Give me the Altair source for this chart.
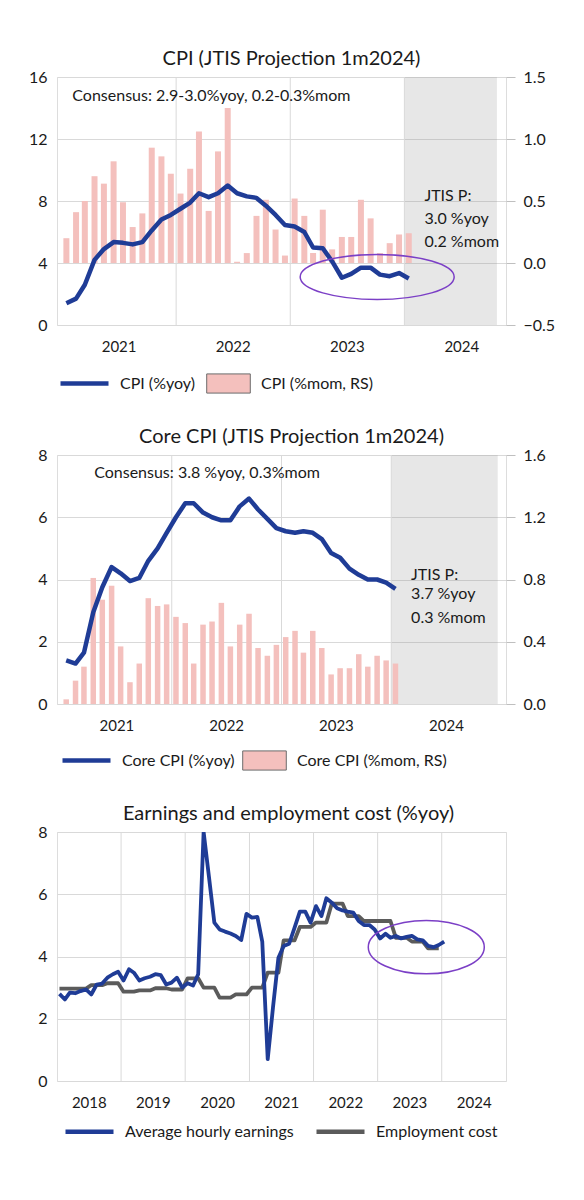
import altair as alt
import pandas as pd

FONT = "Lato"
TXT = "#1a1a1a"
BLUE = "#1f3c96"
PINK = "#f4c0bd"
GRAYLINE = "#5b5b5b"
GRID = "#d9d9d9"
PURPLE = "#7b3fc6"

# ---------------- data ----------------
cpi_months = [f"{y}-{m:02d}" for y in (2021, 2022, 2023) for m in range(1, 13)] + ["2024-01"]

cpi_yoy = [1.4, 1.7, 2.6, 4.2, 4.9, 5.35, 5.3, 5.2, 5.35, 6.1, 6.8, 7.1,
           7.5, 7.9, 8.5, 8.25, 8.5, 9.0, 8.5, 8.3, 8.2, 7.7, 7.1, 6.45,
           6.35, 6.0, 5.0, 4.95, 4.1, 3.05, 3.3, 3.7, 3.7, 3.25, 3.15, 3.35,
           3.0]
cpi_mom = [0.20, 0.41, 0.50, 0.70, 0.64, 0.82, 0.49, 0.29, 0.40, 0.93, 0.86, 0.72,
           0.56, 0.76, 1.06, 0.42, 0.90, 1.25, 0.01, 0.08, 0.38, 0.51, 0.27, 0.06,
           0.52, 0.38, 0.08, 0.43, 0.11, 0.21, 0.21, 0.51, 0.36, 0.08, 0.16, 0.23,
           0.24]
core_yoy = [1.4, 1.3, 1.65, 2.95, 3.75, 4.4, 4.2, 3.95, 4.05, 4.6, 5.0, 5.5,
            6.0, 6.45, 6.45, 6.15, 6.0, 5.9, 5.9, 6.35, 6.6, 6.25, 5.95, 5.65,
            5.55, 5.5, 5.55, 5.5, 5.3, 4.85, 4.7, 4.35, 4.15, 4.0, 4.0, 3.9,
            3.7]
core_mom = [0.03, 0.15, 0.24, 0.81, 0.67, 0.76, 0.37, 0.14, 0.26, 0.68, 0.63, 0.64,
            0.56, 0.52, 0.26, 0.51, 0.53, 0.65, 0.37, 0.51, 0.58, 0.36, 0.31, 0.38,
            0.43, 0.47, 0.33, 0.47, 0.36, 0.19, 0.23, 0.23, 0.32, 0.24, 0.31, 0.28,
            0.26]

earn_months = [f"{y}-{m:02d}" for y in range(2018, 2024) for m in range(1, 13)] + ["2024-01"]
ahe = [2.8, 2.62, 2.84, 2.82, 2.89, 2.94, 2.78, 3.1, 3.13, 3.32, 3.43, 3.51,
       3.23, 3.59, 3.48, 3.23, 3.3, 3.35, 3.43, 3.4, 3.1, 3.16, 3.32, 3.0,
       3.14, 3.07, 3.43, 8.0, 6.58, 5.09, 4.87, 4.8, 4.74, 4.66, 4.53, 5.37,
       5.25, 5.27, 4.48, 0.7, 2.36, 3.96, 4.34, 4.41, 4.93, 5.44, 5.44, 5.09,
       5.62, 5.3, 5.87, 5.73, 5.55, 5.48, 5.44, 5.41, 5.14, 5.01, 5.01, 4.87,
       4.58, 4.73, 4.6, 4.66, 4.58, 4.63, 4.66, 4.55, 4.52, 4.34, 4.3, 4.37,
       4.48]
eci = [2.97, 2.97, 2.97, 2.97, 2.97, 2.97, 3.08, 3.08, 3.08, 3.14, 3.14, 3.14,
       2.87, 2.87, 2.87, 2.91, 2.91, 2.91, 2.98, 2.98, 2.98, 2.94, 2.94, 2.94,
       3.3, 3.3, 3.3, 3.0, 3.0, 3.0, 2.68, 2.68, 2.68, 2.78, 2.78, 2.78,
       3.0, 3.0, 3.0, 3.48, 3.48, 3.48, 4.52, 4.52, 4.52, 4.95, 4.95, 4.95,
       5.09, 5.09, 5.09, 5.7, 5.7, 5.7, 5.3, 5.3, 5.3, 5.14, 5.14, 5.14,
       5.14, 5.14, 5.14, 4.6, 4.6, 4.6, 4.48, 4.48, 4.48, 4.26, 4.26, 4.26]

cpi_years = [2021, 2022, 2023, 2024]
earn_years = [2018, 2019, 2020, 2021, 2022, 2023, 2024]

# annotations (date, left-axis value, text)
cpi_notes = pd.DataFrame({
    "d": ["2021-02-03", "2024-03-05", "2024-03-05", "2024-03-05"],
    "v": [14.75, 8.35, 6.85, 5.35],
    "t": ["Consensus: 2.9-3.0%yoy, 0.2-0.3%mom", "JTIS P:", "3.0 %yoy", "0.2 %mom"],
})
core_notes = pd.DataFrame({
    "d": ["2021-04-18", "2024-03-07", "2024-03-07", "2024-03-07"],
    "v": [7.42, 4.14, 3.53, 2.77],
    "t": ["Consensus: 3.8 %yoy, 0.3%mom", "JTIS P:", "3.7 %yoy", "0.3 %mom"],
})
cpi_ring = pd.DataFrame({"d": ["2023-10-06"], "v": [3.1]})
earn_ring = pd.DataFrame({"d": ["2023-10-05"], "v": [4.3]})

# ---------------- helpers ----------------
def mid(months):
    return [m + "-15" for m in months]


def D(y, m, d):
    return alt.DateTime(year=y, month=m, date=d)


def x_enc(field, dom, years):
    return alt.X(field, type="temporal", title=None,
                 scale=alt.Scale(domain=dom),
                 axis=alt.Axis(values=[D(y, 7, 1) for y in years], format="%Y",
                               ticks=False, domain=False, grid=False,
                               labelFont=FONT, labelFontSize=15, labelColor=TXT,
                               labelPadding=14, labelFlush=False, labelOverlap=False))


def yl_enc(field, dom, vals):
    return alt.Y(field, type="quantitative", title=None,
                 scale=alt.Scale(domain=dom, nice=False, zero=False),
                 axis=alt.Axis(values=vals, ticks=False, domain=False, grid=True,
                               gridColor=GRID, labelFont=FONT, labelFontSize=16,
                               labelColor=TXT, labelPadding=10,
                               minExtent=45, maxExtent=45))


def yr_enc(field, dom, vals):
    return alt.Y(field, type="quantitative", title=None,
                 scale=alt.Scale(domain=dom, nice=False),
                 axis=alt.Axis(orient="right", values=vals, format=".1f",
                               ticks=True, tickColor="#bfbfbf", tickSize=9,
                               domain=False, grid=False, labelFont=FONT,
                               labelFontSize=16, labelColor=TXT, labelPadding=8))


def line_legend(lx, ly):
    return alt.Legend(orient="none", legendX=lx, legendY=ly, title=None,
                      direction="horizontal", symbolType="stroke", symbolSize=2304,
                      symbolStrokeWidth=4.5, labelFont=FONT, labelFontSize=16,
                      labelColor=TXT, labelOffset=9, columnPadding=12, labelLimit=400)


def bar_legend(lx, ly):
    return alt.Legend(orient="none", legendX=lx, legendY=ly, title=None,
                      direction="horizontal", symbolType="M-1,-0.44H1V0.44H-1Z",
                      symbolSize=1900, symbolStrokeColor="#6b6b6b", symbolStrokeWidth=1,
                      symbolOpacity=1, labelFont=FONT, labelFontSize=16,
                      labelColor=TXT, labelOffset=10, labelLimit=400)


def ring(rx_px, ry_px):
    r = ry_px / rx_px
    return f"M-1,0A1,{r:.3f} 0 0,1 1,0A1,{r:.3f} 0 0,1 -1,0Z", (2 * rx_px) ** 2


def title_params(text, dx):
    return alt.TitleParams(text, font=FONT, fontSize=20, fontWeight="normal",
                           color=TXT, anchor="middle", frame="group", dx=dx, offset=0)


def dual_panel(title, months, yoy, mom, yoy_name, mom_name, dom, shade_end,
               ldom, lvals, rdom, rvals, notes, ring_df, ring_shape, height,
               bar_size, leg):
    df = pd.DataFrame({"date": mid(months), "yoy": yoy, "mom": mom,
                       "ln": yoy_name, "bn": mom_name})
    shade = pd.DataFrame({"s": ["2024-01-01"], "e": [shade_end]})
    vgrid = pd.DataFrame({"g": [f"{y}-01-01" for y in cpi_years[1:]]})

    sh = alt.Chart(shade).mark_rect(color="#8c8c8c", opacity=0.21).encode(
        x=x_enc("s", dom, cpi_years), x2="e:T")
    vg = alt.Chart(vgrid).mark_rule(color=GRID, strokeWidth=1).encode(
        x=x_enc("g", dom, cpi_years))
    bars = alt.Chart(df).mark_bar(size=bar_size).encode(
        x=x_enc("date", dom, cpi_years),
        y=yr_enc("mom", rdom, rvals),
        fill=alt.Fill("bn:N", scale=alt.Scale(domain=[mom_name], range=[PINK]),
                      legend=bar_legend(leg[2], leg[3])))
    line = alt.Chart(df).mark_line(strokeWidth=4.5, strokeJoin="round").encode(
        x=x_enc("date", dom, cpi_years),
        y=yl_enc("yoy", ldom, lvals),
        stroke=alt.Stroke("ln:N", scale=alt.Scale(domain=[yoy_name], range=[BLUE]),
                          legend=line_legend(leg[0], leg[1])))
    txt = alt.Chart(notes).mark_text(align="left", baseline="middle", font=FONT,
                                     fontSize=16, color=TXT).encode(
        x=x_enc("d", dom, cpi_years), y=yl_enc("v", ldom, lvals), text="t:N")
    layers = [line, txt]
    if ring_df is not None:
        rg = alt.Chart(ring_df).mark_point(shape=ring_shape[0], size=ring_shape[1],
                                           filled=False, color=PURPLE, strokeWidth=1.5,
                                           opacity=1).encode(
            x=x_enc("d", dom, cpi_years), y=yl_enc("v", ldom, lvals))
        layers.append(rg)
    left = alt.layer(*layers)
    return alt.layer(sh, vg, bars, left).resolve_scale(y="independent").properties(
        width=449, height=height, title=title_params(title, 10))


p1 = dual_panel("CPI (JTIS Projection 1m2024)", cpi_months, cpi_yoy, cpi_mom,
                "CPI (%yoy)", "CPI (%mom, RS)", [D(2021, 1, 1), D(2024, 11, 5)],
                "2024-10-23", [0, 16], [0, 4, 8, 12, 16], [-0.5, 1.5],
                [-0.5, 0, 0.5, 1.0, 1.5], cpi_notes, cpi_ring, ring(77, 22.5),
                248, 6, (1, 280, 149, 284))

p2 = dual_panel("Core CPI (JTIS Projection 1m2024)", cpi_months, core_yoy, core_mom,
                "Core CPI (%yoy)", "Core CPI (%mom, RS)", [D(2021, 1, 1), D(2024, 12, 31)],
                "2024-12-20", [0, 8], [0, 2, 4, 6, 8], [0, 1.6],
                [0, 0.4, 0.8, 1.2, 1.6], core_notes, None, None, 249, 5.5,
                (3, 279, 185, 283))

# earnings panel
edf = pd.DataFrame({"date": mid(earn_months), "v": ahe, "s": "Average hourly earnings"})
cdf = pd.DataFrame({"date": mid(earn_months[:len(eci)]), "v": eci, "s": "Employment cost"})
edom = [D(2018, 1, 1), D(2025, 1, 1)]
evg = pd.DataFrame({"g": [f"{y}-01-01" for y in earn_years[1:]]})
eleg = line_legend(6, 273)
series_scale = alt.Scale(domain=["Average hourly earnings", "Employment cost"],
                         range=[BLUE, GRAYLINE])
e_vg = alt.Chart(evg).mark_rule(color=GRID, strokeWidth=1).encode(
    x=x_enc("g", edom, earn_years))
e_l1 = alt.Chart(edf).mark_line(strokeWidth=3.8, clip=True, strokeJoin="round").encode(
    x=x_enc("date", edom, earn_years), y=yl_enc("v", [0, 8], [0, 2, 4, 6, 8]),
    stroke=alt.Stroke("s:N", scale=series_scale, legend=eleg))
e_l2 = alt.Chart(cdf).mark_line(strokeWidth=3.8, clip=True, strokeJoin="round").encode(
    x=x_enc("date", edom, earn_years), y=yl_enc("v", [0, 8], [0, 2, 4, 6, 8]),
    stroke=alt.Stroke("s:N", scale=series_scale, legend=eleg))
e_shape = ring(58, 26.7)
e_rg = alt.Chart(earn_ring).mark_point(shape=e_shape[0], size=e_shape[1], filled=False,
                                       color=PURPLE, strokeWidth=1.5, opacity=1).encode(
    x=x_enc("d", edom, earn_years), y=yl_enc("v", [0, 8], [0, 2, 4, 6, 8]))
p3 = alt.layer(e_vg, e_l2, e_l1, e_rg).properties(
    width=449, height=249, title=title_params("Earnings and employment cost (%yoy)", 7))

chart = alt.vconcat(p1, p2, p3, spacing=29).resolve_scale(
    stroke="independent", fill="independent"
).resolve_legend(
    stroke="independent", fill="independent"
).properties(
    padding={"left": 3, "top": 40, "right": 5, "bottom": 5}
).configure_view(stroke=GRID, strokeWidth=1).configure(background="white")

chart.save("out.html", embed_options={"renderer": "svg", "actions": False})
